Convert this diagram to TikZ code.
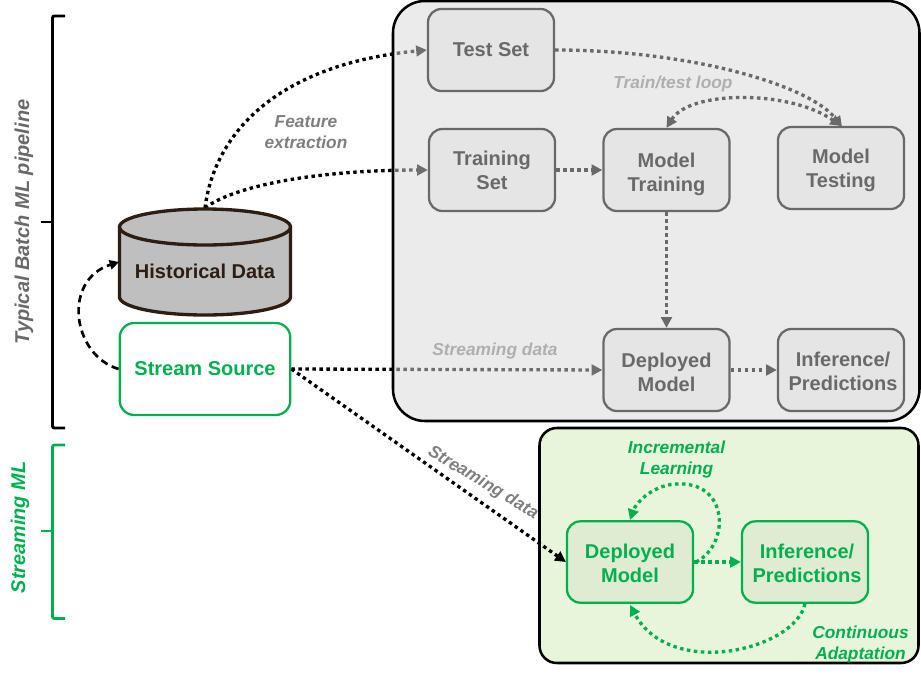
\documentclass[tikz,border=0pt]{standalone}
\usepackage{fontspec}
\setmainfont{Liberation Sans}
\usetikzlibrary{arrows.meta}
\definecolor{ggreen}{RGB}{0,176,80}
\definecolor{dgrey}{RGB}{105,105,105}
\definecolor{mgrey}{RGB}{127,127,127}
\definecolor{lgrey}{RGB}{175,175,175}
\definecolor{panelg}{RGB}{216,216,216}
\definecolor{panelv}{RGB}{233,245,219}
\definecolor{boxg}{RGB}{229,229,229}
\definecolor{boxv}{RGB}{224,236,210}
\definecolor{cylf}{RGB}{191,191,191}
\definecolor{cyle}{RGB}{45,30,20}
\pgfdeclarelayer{under}
\pgfdeclarelayer{panels}
\pgfsetlayers{under,panels,main}
\tikzset{
  x=0.75pt,y=-0.75pt,
  panel/.style={draw=black,line width=1.9pt,rounded corners=#1},
  greybox/.style={draw=dgrey,fill=boxg,line width=1.7pt,rounded corners=10pt,minimum width=94.5pt,minimum height=61.5pt,inner sep=0pt,align=center,text=dgrey,font=\fontsize{15}{18}\selectfont\bfseries},
  greenbox/.style={draw=ggreen,fill=boxv,line width=1.7pt,rounded corners=10pt,minimum width=94.5pt,minimum height=61pt,inner sep=0pt,align=center,text=ggreen,font=\fontsize{15}{18}\selectfont\bfseries},
  lbl/.style={font=\fontsize{13}{15.75}\selectfont\bfseries\itshape,align=center,inner sep=0pt},
  dotline/.style={line width=2.5pt,dash pattern=on 2.6pt off 2.65pt,-{Triangle[length=8pt,width=8pt]}},
  blackdots/.style={dotline,draw=black,-{Triangle[length=8pt,width=8pt,fill=black]}},
  greydots/.style={dotline,draw=dgrey},
  greendots/.style={dotline,draw=ggreen},
  bracket/.style={line width=2.2pt,rounded corners=1.5pt},
}
\begin{document}
\begin{tikzpicture}
\useasboundingbox (0,0) rectangle (921,675);
% panels
\begin{pgfonlayer}{panels}
\draw[panel=24pt,fill=panelg,fill opacity=0.51] (393,1) rectangle (919.5,421);
\draw[panel=13pt,fill=panelv] (539.5,428) rectangle (918.5,663);
\end{pgfonlayer}
% brackets
\draw[bracket] (65,16) -- (52.5,16) -- (52.5,428) -- (65,428);
\draw[bracket] (41,222) -- (52.5,222);
\draw[bracket,draw=ggreen] (65,445) -- (52.5,445) -- (52.5,618.5) -- (65,618.5);
\draw[bracket,draw=ggreen] (41,531) -- (52.5,531);
\node[lbl,rotate=90,text=dgrey,font=\fontsize{15}{18}\selectfont\bfseries\itshape] (lbatch) at (24,222) {Typical Batch ML pipeline};
\node[lbl,rotate=90,text=ggreen,font=\fontsize{14.9}{18}\selectfont\bfseries\itshape] (lstream) at (20,527.5) {Streaming ML};
% cylinder
\draw[draw=cyle,fill=cylf,line width=2.5pt] (119.5,227) -- (119.5,297) arc[start angle=180,end angle=0,x radius=85.5,y radius=18] -- (290.5,227) arc[start angle=0,end angle=-180,x radius=85.5,y radius=18] -- cycle;
\draw[draw=cyle,line width=2.5pt] (119.5,227) arc[start angle=180,end angle=0,x radius=85.5,y radius=18];
\node[inner sep=0pt,text=cyle,font=\fontsize{15}{18}\selectfont\bfseries] (histlabel) at (205,271) {Historical Data};
\node[draw=ggreen,fill=white,line width=1.7pt,rounded corners=11pt,minimum width=128pt,minimum height=69pt,inner sep=0pt,text=ggreen,font=\fontsize{15}{18}\selectfont\bfseries] (src) at (205,369) {Stream Source};
% grey boxes
\node[greybox] (test) at (491,50) {Test Set};
\node[greybox] (train) at (492,170) {Training\\Set};
\node[greybox] (mtrain) at (666.5,170) {\rule{0pt}{16.9pt}Model\\Training};
\node[greybox] (mtest) at (841,168) {\rule{0pt}{13.9pt}Model\\Testing};
\node[greybox] (dep) at (666.5,370) {\rule{0pt}{13.9pt}Deployed\\Model};
\node[greybox] (inf) at (841,370) {\rule{0pt}{12.4pt}\hspace*{3pt}Inference/\\\hspace*{3pt}Predictions};
% green boxes
\node[greenbox] (gdep) at (630,562) {\rule{0pt}{12.4pt}Deployed\\Model};
\node[greenbox] (ginf) at (805,562) {\rule{0pt}{12.4pt}\hspace*{3pt}Inference/\\\hspace*{3pt}Predictions};
% captions
\node[lbl,text=mgrey] (lfeat) at (306,132) {Feature\\extraction};
\node[lbl,text=lgrey] (lloop) at (673,84) {Train/test loop};
\node[lbl,text=lgrey] (lsd) at (495,351) {Streaming data};
\node[lbl,text=mgrey,rotate=-31] (lsd2) at (483,483) {Streaming data};
\node[lbl,text=ggreen] (linc) at (676.5,459.5) {Incremental\\Learning};
\node[lbl,text=ggreen] (lcont) at (860.5,645) {Continuous\\Adaptation};
% connectors
\coordinate (ht) at (205,208);
\coordinate (hl) at (119,262);
\begin{pgfonlayer}{under}
\draw[blackdots] (ht) .. controls (215,130) and (281,64) .. (test.west);
\draw[blackdots] (ht) .. controls (235,185) and (320,170) .. (train.west);
\draw[blackdots] (src.east) -- (dep.west);
\end{pgfonlayer}
\draw[blackdots,line width=2pt,dash pattern=on 5.5pt off 3.5pt,-{Triangle[length=7pt,width=7pt,fill=black]}] (src.west) .. controls (72,355) and (62,280) .. (hl);
\draw[blackdots] (src.east) -- (gdep.west);
\draw[greydots] (test.east) .. controls (690,50) and (810,85) .. (842,127);
\draw[greydots] (train.east) -- (mtrain.west);
\draw[greydots,{Triangle[length=8pt,width=8pt]}-{Triangle[length=8pt,width=8pt]}] (mtrain.north) .. controls (690,90) and (790,90) .. (mtest.north);
\draw[greydots] (mtrain.south) -- (dep.north);
\draw[greydots] (dep.east) -- (inf.west);
\draw[greendots] (gdep.east) -- (ginf.west);
\draw[greendots] (696,562) .. controls (730,545) and (730,480) .. (675,484) .. controls (650,486) and (635,505) .. (630,520);
\draw[greendots] (ginf.south) .. controls (795,650) and (670,680) .. (630,605);
\end{tikzpicture}
\end{document}
